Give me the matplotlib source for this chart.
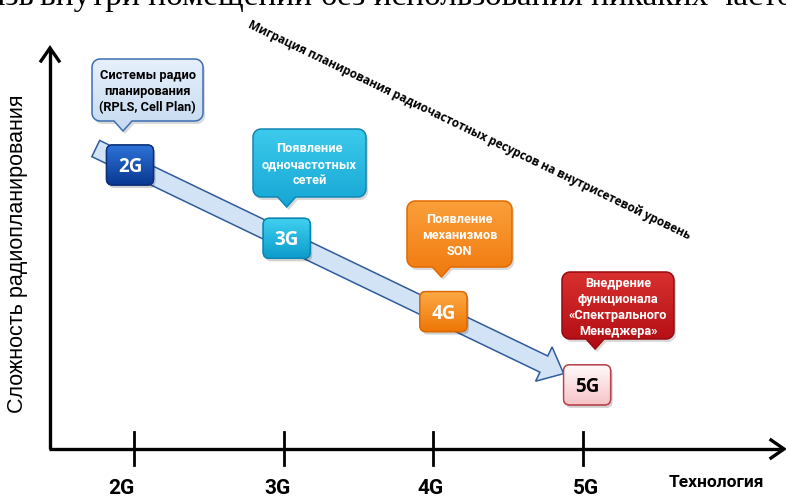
import numpy as np
import matplotlib
matplotlib.use("Agg")
import matplotlib.pyplot as plt
from matplotlib import font_manager
from matplotlib.patches import FancyBboxPatch, Polygon, PathPatch
from matplotlib.path import Path
from matplotlib.transforms import Affine2D
from matplotlib.colors import to_rgb

# ---------------- data ----------------
generations = ["2G", "3G", "4G", "5G"]
complexity = [4, 3, 2, 1]          # relative radio-planning complexity level
callouts = [
    "Системы радио\nпланирования\n(RPLS, Cell Plan)",
    "Появление\nодночастотных\nсетей",
    "Появление\nмеханизмов\nSON",
    "Внедрение\nфункционала\n«Спектрального\nМенеджера»",
]
trend_label = "Миграция планирования радиочастотных ресурсов на внутрисетевой уровень"
y_label = "Сложность радиопланирования"
x_label = "Технология"
page_text_left = "связь"
page_text_right = "внутри помещений без использования никаких частот"

# ---------------- styling ----------------
box_top = ["#2d72d8", "#3fd0f0", "#fca944", "#fffafa"]
box_bot = ["#0a3891", "#0d9ccb", "#ee7606", "#f6c3c7"]
box_edge = ["#0b2f78", "#0a86b2", "#dc6800", "#b9424a"]
box_txt = ["white", "white", "white", "black"]
call_top = ["#e6f0fb", "#3ccaec", "#fa9f3a", "#d8302f"]
call_bot = ["#c6daf1", "#16a6d4", "#f07a0e", "#b10c12"]
call_edge = ["#3c6fb2", "#1386b4", "#e26a00", "#980a10"]
call_txt = ["black", "white", "white", "white"]

available = {f.name for f in font_manager.fontManager.ttflist}


def pick(*names):
    for n in names:
        if n in available:
            return n
    return "DejaVu Sans"


narrow = pick("Liberation Sans Narrow", "Roboto", "Liberation Sans")
arial = pick("Liberation Sans", "Arial", "DejaVu Sans")
serif = pick("Liberation Serif", "DejaVu Serif")
sans_b = pick("Open Sans", "Roboto")

W, H = 786, 502
fig = plt.figure(figsize=(W / 100, H / 100), dpi=100)
ax = fig.add_axes([0, 0, 1, 1])
ax.set_autoscale_on(False)

# data space: generation index on x, complexity level on y
GX0, GDX = 134.0, 149.7      # pixel x of first generation, spacing
LY0, LDY = 166.0, 73.3       # pixel y of top level, spacing per level
top_level = max(complexity)
ax.set_xlim((0 - GX0) / GDX, (W - GX0) / GDX)
ax.set_ylim(top_level - (H - LY0) / LDY, top_level + LY0 / LDY)
ax.axis("off")

# pixel transform (origin top-left, y downwards)
P = Affine2D().scale(1 / W, -1 / H).translate(0, 1) + ax.transAxes


def d2p(x, y):
    return P.inverted().transform(ax.transData.transform((x, y)))


def gradient_fill(patch, c1, c2, x0, y0, x1, y1, z):
    a, b = np.array(to_rgb(c1)), np.array(to_rgb(c2))
    t = np.linspace(0, 1, 64)[:, None, None]
    img = a * (1 - t) + b * t
    img = np.repeat(img, 2, axis=1)
    im = ax.imshow(img, extent=(x0, x1, y1, y0), origin="upper",
                   transform=P, aspect="auto", zorder=z, interpolation="bilinear")
    im.set_clip_path(patch)


def callout_path(x0, y0, x1, y1, r, tx, hw, d):
    def arc(cx, cy, a0, a1):
        a = np.radians(np.linspace(a0, a1, 8))
        return list(zip(cx + r * np.cos(a), cy + r * np.sin(a)))
    v = []
    v += arc(x0 + r, y0 + r, 180, 270)
    v += arc(x1 - r, y0 + r, 270, 360)
    v += arc(x1 - r, y1 - r, 0, 90)
    v += [(tx + hw, y1), (tx, y1 + d), (tx - hw, y1)]
    v += arc(x0 + r, y1 - r, 90, 180)
    v.append(v[0])
    codes = [Path.MOVETO] + [Path.LINETO] * (len(v) - 2) + [Path.CLOSEPOLY]
    return Path(v, codes)


# ---- page text running off the top edge ----
ax.text(34, 5, page_text_left, transform=P, ha="right", va="baseline",
        fontsize=24, family=serif, color="black", zorder=1)
ax.text(40, 5, page_text_right, transform=P, ha="left", va="baseline",
        fontsize=24, family=serif, color="black", zorder=1)

# ---- axes with arrows ----
AXX, AXY = 50, 450
lw_ax = 2.4
ax.plot([AXX, AXX], [AXY, 50], transform=P, color="black", lw=lw_ax,
        solid_capstyle="butt", zorder=2)
ax.plot([AXX - 1.2, 782], [AXY, AXY], transform=P, color="black", lw=lw_ax,
        solid_capstyle="butt", zorder=2)
ax.plot([AXX - 9, AXX, AXX + 9], [62, 49, 62], transform=P, color="black",
        lw=lw_ax, solid_joinstyle="miter", zorder=2)
ax.plot([771, 784, 771], [AXY - 9, AXY, AXY + 9], transform=P, color="black",
        lw=lw_ax, solid_joinstyle="miter", zorder=2)

label_dx = [-13, -6, -3, 3]
for i, g in enumerate(generations):
    px, _ = d2p(i, 0)
    ax.plot([px, px], [433, 466], transform=P, color="black", lw=2.0, zorder=2)
    ax.text(px + label_dx[i], 489, g, transform=P, ha="center", va="center",
            fontsize=15, fontweight="bold", family=narrow, color="black")

ax.text(716, 483, x_label, transform=P, ha="center", va="center",
        fontsize=12.5, fontweight="bold", family=narrow, color="black")
ax.text(18, 254, y_label, transform=P, ha="center", va="center", rotation=90,
        fontsize=15.5, family=arial, color="black")

# ---- trend arrow through the generation boxes ----
box_nudge = [-4, 3, 10, 4]
centers = [d2p(i, c) + np.array([box_nudge[i], 0]) for i, c in enumerate(complexity)]
p_start, p_end = np.array(centers[0]), np.array(centers[-1])
u = (p_end - p_start) / np.linalg.norm(p_end - p_start)
n = np.array([-u[1], u[0]])
tail = p_start - 38 * u
tip = p_end - 26 * u
sw, hw_, hl = 9.0, 19.0, 22.0
neck = tip - hl * u
arrow_pts = [tail + sw * n, neck + sw * n, neck + hw_ * n, tip,
             neck - hw_ * n, neck - sw * n, tail - sw * n]
ax.add_patch(Polygon(arrow_pts, closed=True, transform=P, facecolor="#d3e3f6",
                     edgecolor="#2f5c9c", lw=1.1, zorder=3))

# ---- trend label ----
tmp = ax.text(0, 0, trend_label, transform=P, fontsize=10, fontweight="bold",
              family=sans_b)
fig.canvas.draw()
w_tmp = tmp.get_window_extent().width
tmp.remove()
ang = np.degrees(np.arctan2(u[1], u[0]))
ax.text(469, 130, trend_label, transform=P, ha="center", va="center",
        rotation=-ang, rotation_mode="anchor", fontsize=10 * 494 / w_tmp,
        fontweight="bold", family=sans_b, color="black", zorder=6)

# ---- generation boxes ----
bw, bh = 47, 40
for i, g in enumerate(generations):
    cx, cy = centers[i]
    x0, y0 = cx - bw / 2, cy - bh / 2
    sh = FancyBboxPatch((x0 + 2, y0 + 3), bw, bh, boxstyle="round,pad=0,rounding_size=6",
                        transform=P, facecolor="black", edgecolor="none", alpha=0.18, zorder=4)
    ax.add_patch(sh)
    bx = FancyBboxPatch((x0, y0), bw, bh, boxstyle="round,pad=0,rounding_size=6",
                        transform=P, facecolor=box_bot[i], edgecolor=box_edge[i],
                        lw=1.0, zorder=5)
    ax.add_patch(bx)
    gradient_fill(bx, box_top[i], box_bot[i], x0, y0, x0 + bw, y0 + bh, 5.1)
    edge = FancyBboxPatch((x0, y0), bw, bh, boxstyle="round,pad=0,rounding_size=6",
                          transform=P, facecolor="none", edgecolor=box_edge[i],
                          lw=1.0, zorder=5.2)
    ax.add_patch(edge)
    ax.text(cx, cy + 1, g, transform=P, ha="center", va="center", fontsize=13.5,
            fontweight="bold", family=sans_b, color=box_txt[i], zorder=5.5)

# ---- callouts ----
call_rect = [(92, 60, 203, 122), (253, 130, 366, 198),
             (407, 202, 512, 268), (562, 273, 674, 340)]
call_tip_dx = [-7, 0, -2, 8]
for i, (x0, y0, x1, y1) in enumerate(call_rect):
    tx = centers[i][0] + call_tip_dx[i]
    path = callout_path(x0, y0, x1, y1, 8, tx, 9, 10)
    shp = PathPatch(path.transformed(Affine2D().translate(2, 3)), transform=P,
                    facecolor="black", edgecolor="none", alpha=0.15, zorder=4)
    ax.add_patch(shp)
    pp = PathPatch(path, transform=P, facecolor=call_bot[i], edgecolor="none", zorder=5)
    ax.add_patch(pp)
    gradient_fill(pp, call_top[i], call_bot[i], x0, y0, x1, y1 + 10, 5.1)
    ax.add_patch(PathPatch(path, transform=P, facecolor="none",
                           edgecolor=call_edge[i], lw=1.1, zorder=5.2))
    ax.text((x0 + x1) / 2, (y0 + y1) / 2 + 1, callouts[i], transform=P,
            ha="center", va="center", fontsize=9.2, fontweight="bold",
            family=narrow, color=call_txt[i], linespacing=1.3, zorder=5.5)

fig.savefig("out.png", dpi=100)
